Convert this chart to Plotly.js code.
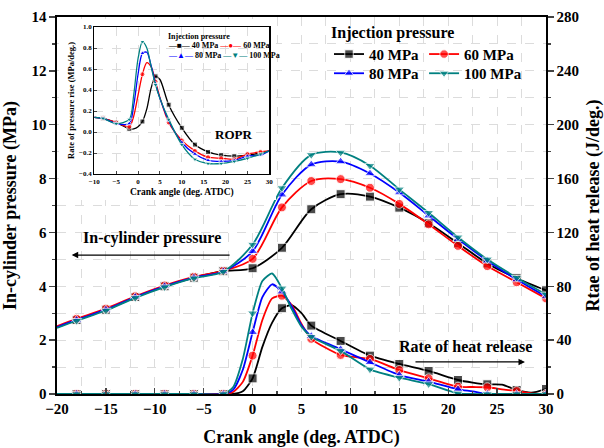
<!DOCTYPE html>
<html><head><meta charset="utf-8">
<script src="https://cdn.plot.ly/plotly-3.0.1.min.js"></script>
<style>html,body{margin:0;padding:0;background:#fff}</style>
</head><body><div id="chart" style="width:604px;height:448px"></div>
<script>
// ---------- data ----------
const seriesNames = ['40 MPa', '60 MPa', '80 MPa', '100 MPa'];

// In-cylinder pressure (MPa)
const pressureAngle = [-20, -18, -15, -12, -9, -6, -3, 0, 3, 6, 9, 12, 15, 18, 21, 24, 27, 30];
const pressure40  = [2.48, 2.75, 3.13, 3.60, 4.00, 4.32, 4.56, 4.67, 5.43, 6.86, 7.42, 7.33, 6.92, 6.34, 5.60, 4.85, 4.30, 3.85];
const pressure60  = [2.52, 2.79, 3.17, 3.63, 4.03, 4.35, 4.57, 5.02, 6.93, 7.91, 7.98, 7.66, 7.06, 6.30, 5.50, 4.75, 4.15, 3.55];
const pressure80  = [2.48, 2.75, 3.13, 3.60, 4.00, 4.32, 4.55, 5.30, 7.40, 8.52, 8.63, 8.19, 7.48, 6.62, 5.75, 4.95, 4.25, 3.62];
const pressure100 = [2.45, 2.72, 3.10, 3.57, 3.97, 4.30, 4.54, 5.55, 7.65, 8.88, 8.97, 8.48, 7.60, 6.73, 5.82, 5.00, 4.32, 3.70];

// Rate of heat release (J/deg.)
const heatAngle = [-20, -18, -15, -12, -9, -6, -3, -2, -1, 0, 1, 2, 3, 4, 5, 6, 9, 12, 15, 18, 21, 22.5, 24, 25.5, 27, 28.5, 30];
const heat40  = [0, 0, 0, 0, 0, 0, 0, 0, 2, 11.6, 35, 53, 63.7, 66, 60, 50.8, 39.4, 28.5, 22.3, 17.1, 10.4, 8.5, 7.2, 7.0, 3.0, 1.0, 3.7];
const heat60  = [0, 0, 0, 0, 0, 0, 0, 1.5, 9, 28.5, 55, 71, 73, 66, 52, 41, 29, 26, 17.8, 11.6, 5.4, 5.2, 5.0, 3.5, 2.2, 0.5, 0];
const heat80  = [0, 0, 0, 0, 0, 0, 0, 3, 18, 45.8, 72, 81.5, 76, 65, 51, 43, 33.2, 23.5, 14.1, 9.2, 3.5, 2.0, 0, 0, 0, 0, 0];
const heat100 = [0, 0, 0, 0, 0, 0, 0, 5, 26, 60, 84, 89.5, 78.5, 63, 50, 42.5, 32, 18.3, 12.1, 7.4, 0.5, 0, 0, 0, 0, 0, 0];

// Rate of pressure rise (MPa/deg.) - inset
const roprAngle = [-10, -8, -5, -2, -1, 0, 1, 2, 3, 4, 5, 7, 10, 13, 16, 19, 22, 25, 28, 30];
const ropr40  = [0.14, 0.13, 0.09, 0.03, 0.03, 0.05, 0.10, 0.22, 0.42, 0.53, 0.50, 0.26, 0.04, -0.12, -0.19, -0.22, -0.23, -0.22, -0.20, -0.18];
const ropr60  = [0.14, 0.13, 0.09, 0.05, 0.15, 0.35, 0.55, 0.66, 0.62, 0.48, 0.33, 0.09, -0.08, -0.18, -0.24, -0.25, -0.26, -0.21, -0.19, -0.18];
const ropr80  = [0.14, 0.13, 0.08, 0.08, 0.25, 0.55, 0.75, 0.76, 0.63, 0.46, 0.32, 0.11, -0.10, -0.21, -0.27, -0.28, -0.27, -0.23, -0.22, -0.18];
const ropr100 = [0.14, 0.13, 0.08, 0.12, 0.35, 0.70, 0.86, 0.80, 0.62, 0.45, 0.32, 0.12, -0.12, -0.26, -0.30, -0.30, -0.28, -0.25, -0.21, -0.18];

// ---------- styles ----------
const colors = ['#000000', '#ff0000', '#0000ff', '#008080'];
const symbols = ['square', 'circle', 'triangle-up', 'triangle-down'];
const FONT = 'Liberation Serif, Times New Roman, serif';

const mainMarkerSizes = xs => xs.map(v => (v > -20 && v % 3 === 0) ? 9 : 0);
const insetMarkerSizes = xs => xs.map(v => (v >= -8 && v <= 28 && (v + 8) % 3 === 0) ? 5 : 0);

const pressures = [pressure40, pressure60, pressure80, pressure100];
const heats = [heat40, heat60, heat80, heat100];
const roprs = [ropr40, ropr60, ropr80, ropr100];

const traces = [];
pressures.forEach((p, i) => {
  traces.push({
    x: pressureAngle, y: p, type: 'scatter', mode: 'lines+markers',
    name: seriesNames[i], legend: (i < 2) ? 'legend' : 'legend2',
    line: {color: colors[i], width: 1.8, shape: 'spline', smoothing: 0.8},
    marker: {symbol: symbols[i], color: colors[i], size: mainMarkerSizes(pressureAngle)},
    xaxis: 'x', yaxis: 'y', hoverinfo: 'skip'
  });
});
heats.forEach((h, i) => {
  traces.push({
    x: heatAngle, y: h, type: 'scatter', mode: 'lines+markers', showlegend: false,
    line: {color: colors[i], width: 1.8, shape: 'spline', smoothing: 0.6},
    marker: {symbol: symbols[i], color: colors[i], size: mainMarkerSizes(heatAngle)},
    xaxis: 'x', yaxis: 'y2', hoverinfo: 'skip'
  });
});
// empty subplot used only as a white backdrop behind the inset and its labels
traces.push({x: [], y: [], type: 'scatter', mode: 'lines', showlegend: false, xaxis: 'x3', yaxis: 'y3', hoverinfo: 'skip'});
roprs.forEach((r, i) => {
  traces.push({
    x: roprAngle, y: r, type: 'scatter', mode: 'lines+markers', showlegend: false,
    line: {color: colors[i], width: 1.3, shape: 'spline', smoothing: 0.8},
    marker: {symbol: symbols[i], color: colors[i], size: insetMarkerSizes(roprAngle)},
    xaxis: 'x4', yaxis: 'y4', hoverinfo: 'skip'
  });
});

// pixel helpers for paper placement of text blocks
const L = 57, R = 546, T = 17, B = 394;
const px = v => (v - L) / (R - L);
const py = v => 1 - (v - T) / (B - T);

const gridStyle = {gridcolor: '#dcdcdc', griddash: 'dash', gridwidth: 1};
const tickFont = {family: FONT, size: 15, color: '#000', weight: 700};
const titleFont = {family: FONT, size: 18, color: '#000', weight: 700};
const smallTick = {family: FONT, size: 7, color: '#000', weight: 700};

const sym = (c, s) => `<span style="color:${c}">—${s}—</span>`;
const insetLegFont = {family: FONT, size: 8, color: '#000', weight: 700};

const layout = {
  width: 604, height: 448,
  margin: {l: L, r: 604 - R, t: T, b: 448 - B, pad: 0},
  paper_bgcolor: '#fff', plot_bgcolor: '#fff',
  font: {family: FONT, color: '#000'},
  xaxis: {
    range: [-20, 30], dtick: 5, tick0: 0, ticks: 'inside', ticklen: 6, tickwidth: 1.3,
    showline: true, linecolor: '#000', linewidth: 1.6, mirror: true,
    showgrid: true, ...gridStyle, zeroline: false,
    tickfont: tickFont,
    minor: {dtick: 2.5, ticks: 'inside', ticklen: 3, showgrid: true, ...gridStyle},
    title: {text: 'Crank angle (deg. ATDC)', font: titleFont, standoff: 16}
  },
  yaxis: {
    range: [0, 14], dtick: 2, ticks: 'outside', ticklen: 6, tickwidth: 1.3,
    showline: true, linecolor: '#000', linewidth: 1.6,
    showgrid: true, ...gridStyle, zeroline: false,
    tickfont: tickFont,
    minor: {dtick: 1, ticks: 'outside', ticklen: 3, showgrid: true, ...gridStyle},
    title: {text: 'In-cylinder pressure (MPa)', font: titleFont, standoff: 10}
  },
  yaxis2: {
    overlaying: 'y', side: 'right', range: [0, 280], dtick: 40,
    ticks: 'outside', ticklen: 6, tickwidth: 1.3,
    showline: true, linecolor: '#000', linewidth: 1.6, showgrid: false, zeroline: false,
    tickfont: tickFont,
    minor: {dtick: 20, ticks: 'outside', ticklen: 3, showgrid: false},
    title: {text: 'Rtae of heat release (J/deg.)', font: {family: FONT, size: 18, color: '#000', weight: 700}, standoff: 10}
  },
  xaxis3: {domain: [px(59), px(276)], anchor: 'y3', visible: false, range: [0, 1], fixedrange: true},
  yaxis3: {domain: [py(200), py(19)], anchor: 'x3', visible: false, range: [0, 1], fixedrange: true},
  xaxis4: {
    domain: [px(94.3), px(269.3)], anchor: 'y4', range: [-10, 30], dtick: 5,
    ticks: 'inside', ticklen: 3, tickwidth: 1,
    showline: true, linecolor: '#000', linewidth: 1.2, mirror: true,
    showgrid: true, ...gridStyle, zeroline: false,
    tickfont: smallTick,
    title: {text: 'Crank angle (deg. ATDC)', font: {family: FONT, size: 9.5, color: '#000', weight: 700}, standoff: 3}
  },
  yaxis4: {
    domain: [py(174), py(27)], anchor: 'x4', range: [-0.4, 1.0], dtick: 0.2,
    tickformat: '.1f', ticks: 'inside', ticklen: 3, tickwidth: 1,
    showline: true, linecolor: '#000', linewidth: 1.2, mirror: true,
    showgrid: true, ...gridStyle, zeroline: false,
    tickfont: smallTick,
    title: {text: 'Rate of pressure rise (MPa/deg.)', font: {family: FONT, size: 8.5, color: '#000', weight: 700}, standoff: 3}
  },
  showlegend: true,
  legend: {
    orientation: 'h', x: px(329), y: py(17), xanchor: 'left', yanchor: 'top',
    bgcolor: 'rgba(0,0,0,0)', borderwidth: 0,
    font: {family: FONT, size: 15, color: '#000', weight: 700},
    title: {text: 'Injection pressure', side: 'top', font: {family: FONT, size: 16, color: '#000', weight: 700}},
    itemwidth: 30
  },
  legend2: {
    orientation: 'h', x: px(329), y: py(57), xanchor: 'left', yanchor: 'top',
    bgcolor: 'rgba(0,0,0,0)', borderwidth: 0,
    font: {family: FONT, size: 15, color: '#000', weight: 700},
    itemwidth: 30
  },
  annotations: [
    {xref: 'x', yref: 'y', x: -10.3, y: 5.79, text: 'In-cylinder pressure', showarrow: false,
     font: {family: FONT, size: 16, color: '#000', weight: 700}},
    {xref: 'x', yref: 'y', x: -18.5, y: 5.16, ax: -2.2, ay: 5.16, axref: 'x', ayref: 'y',
     text: '', showarrow: true, arrowhead: 2, arrowsize: 1, arrowwidth: 1.3, arrowcolor: '#000'},
    {xref: 'x', yref: 'y', x: 21.8, y: 1.75, text: 'Rate of heat release', showarrow: false,
     font: {family: FONT, size: 16, color: '#000', weight: 700}},
    {xref: 'x', yref: 'y', x: 27.85, y: 1.19, ax: 16.5, ay: 1.19, axref: 'x', ayref: 'y',
     text: '', showarrow: true, arrowhead: 2, arrowsize: 1, arrowwidth: 1.3, arrowcolor: '#000'},
    {xref: 'x4', yref: 'y4', x: 21.9, y: -0.02, text: 'ROPR', showarrow: false,
     font: {family: FONT, size: 13, color: '#000', weight: 700}},
    // inset legend
    {xref: 'paper', yref: 'paper', x: px(166), y: py(37), xanchor: 'left', yanchor: 'middle',
     text: 'Injection pressure', showarrow: false, font: insetLegFont},
    {xref: 'paper', yref: 'paper', x: px(166), y: py(46), xanchor: 'left', yanchor: 'middle',
     text: sym(colors[0], '■') + ' ' + seriesNames[0] + ' ' + sym(colors[1], '●') + ' ' + seriesNames[1],
     showarrow: false, font: insetLegFont},
    {xref: 'paper', yref: 'paper', x: px(166), y: py(56), xanchor: 'left', yanchor: 'middle',
     text: sym(colors[2], '▲') + ' ' + seriesNames[2] + ' ' + sym(colors[3], '▼') + ' ' + seriesNames[3],
     showarrow: false, font: insetLegFont}
  ]
};

Plotly.newPlot('chart', traces, layout, {staticPlot: true, displayModeBar: false});
</script>
</body></html>
